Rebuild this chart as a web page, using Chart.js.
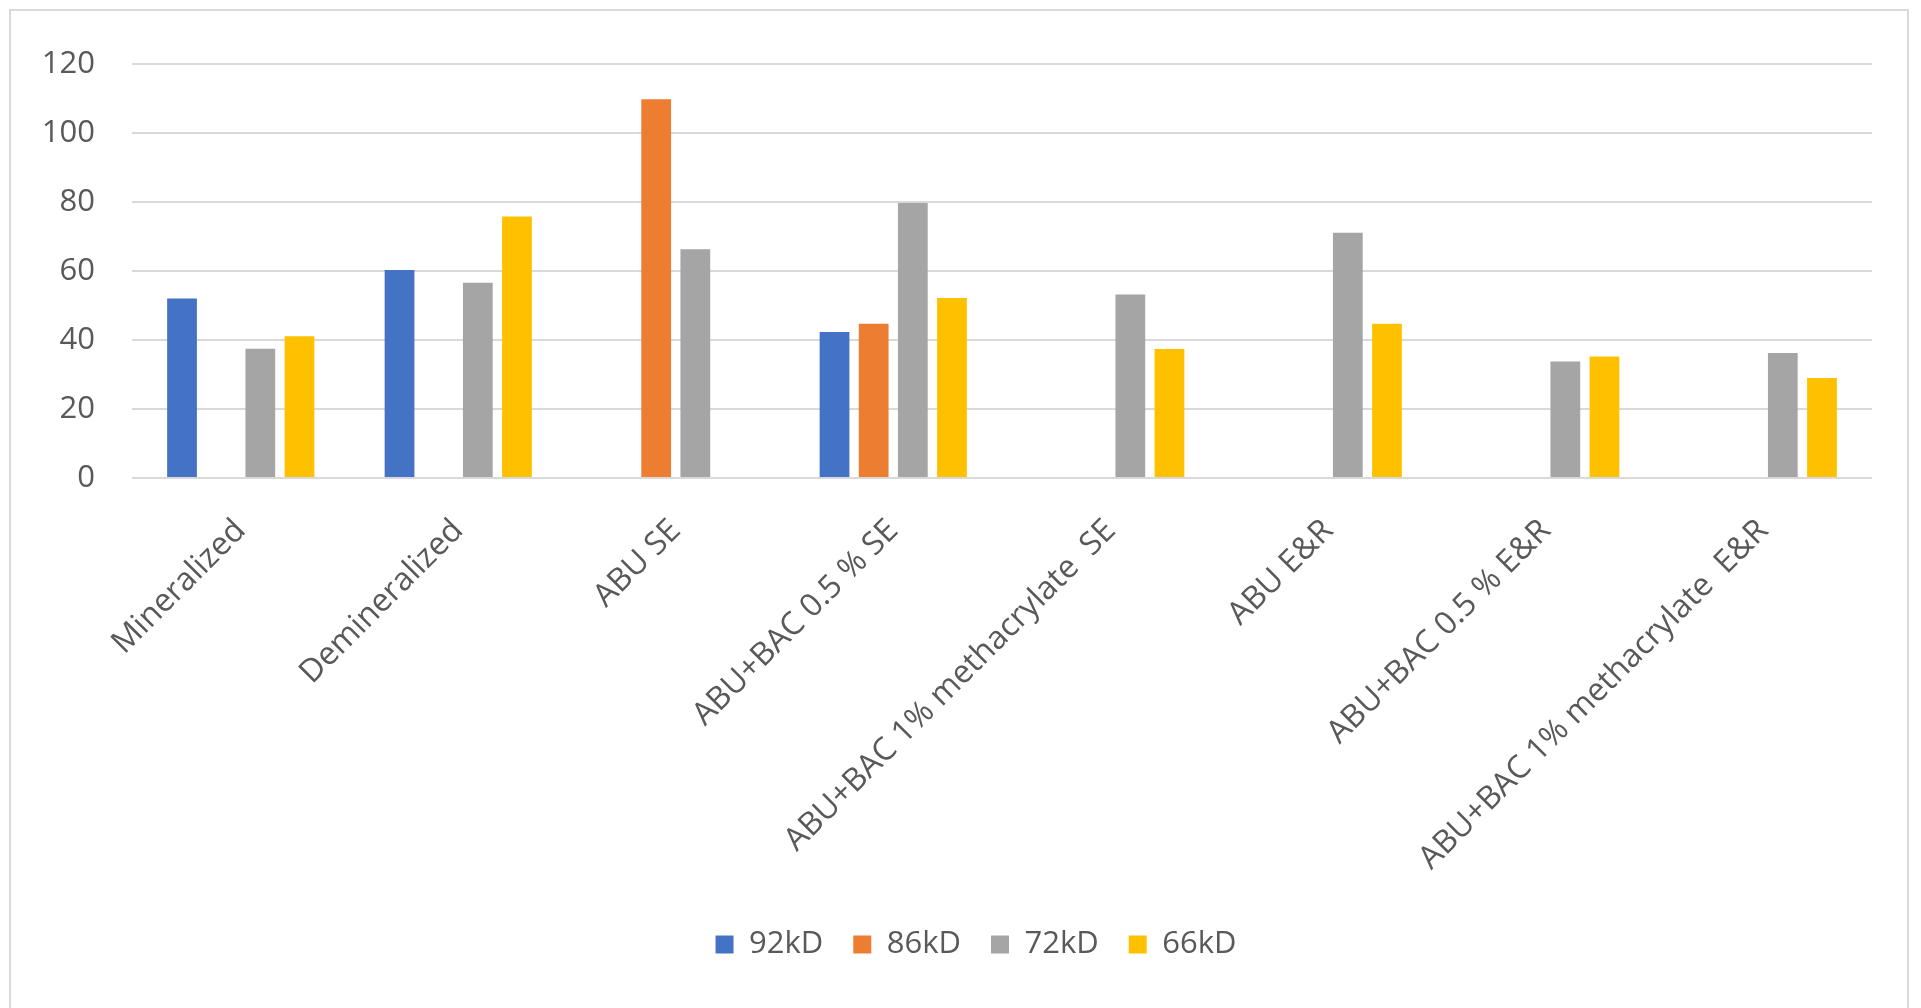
<!DOCTYPE html>
<html>
<head>
<meta charset="utf-8">
<script src="https://cdn.jsdelivr.net/npm/chart.js@4"></script>
<style>
  html, body { margin: 0; padding: 0; background: #fff; overflow: hidden; }
  #frame {
    position: absolute; left: 9px; top: 9px; width: 1900px; height: 1100px;
    border: 2px solid #d9d9d9; box-sizing: border-box;
  }
  #wrap { position: absolute; left: 0; top: 0; width: 1921px; height: 1008px; }
</style>
</head>
<body>
<div id="frame"></div>
<div id="wrap"><canvas id="chart"></canvas></div>
<script>
// Gelatinase band intensity by group
const categories = [
    'Mineralized',
    'Demineralized',
    'ABU SE',
    'ABU+BAC 0.5 % SE',
    'ABU+BAC 1% methacrylate  SE',
    'ABU E&R',
    'ABU+BAC 0.5 % E&R',
    'ABU+BAC 1% methacrylate  E&R'
];
const seriesNames = ['92kD', '86kD', '72kD', '66kD'];
const kd92 = [52, 60.3, null, 42.3, null, null, null, null];
const kd86 = [null, null, 109.8, 44.7, null, null, null, null];
const kd72 = [37.5, 56.6, 66.3, 79.7, 53.2, 71.1, 33.8, 36.2];
const kd66 = [41.1, 75.8, null, 52.2, 37.4, 44.7, 35.2, 29.0];
const yTicks = [0, 20, 40, 60, 80, 100, 120];

const colors = ['#4472C4', '#ED7D31', '#A5A5A5', '#FFC000'];
const textColor = '#595959';
const fontFamily = '"Open Sans", "Noto Sans", sans-serif';

// legend sits centred on the whole frame, not on the padded area
const legendShift = {
    id: 'legendShift',
    afterLayout(chart) {
        const lg = chart.legend;
        if (!lg) return;
        lg.left += 30;
        lg.right += 30;
    }
};

document.addEventListener('DOMContentLoaded', () => {
    const ctx = document.getElementById('chart').getContext('2d');
    const seriesData = [kd92, kd86, kd72, kd66];

    new Chart(ctx, {
        type: 'bar',
        data: {
            labels: categories,
            datasets: seriesNames.map((name, i) => ({
                label: name,
                data: seriesData[i],
                backgroundColor: colors[i],
                borderWidth: 0,
                categoryPercentage: 0.72,
                barPercentage: 0.76
            }))
        },
        options: {
            responsive: true,
            maintainAspectRatio: false,
            animation: false,
            devicePixelRatio: 1,
            layout: {
                padding: { top: 64, left: 20, right: 49, bottom: 38 }
            },
            scales: {
                x: {
                    grid: { display: false },
                    border: { display: false },
                    ticks: {
                        color: textColor,
                        font: { family: fontFamily, size: 32 },
                        minRotation: 45,
                        maxRotation: 45,
                        autoSkip: false,
                        padding: 26
                    },
                    afterFit: (scale) => { scale.height = 421; }
                },
                y: {
                    min: 0,
                    max: 120,
                    afterBuildTicks: (scale) => {
                        scale.ticks = yTicks.map(v => ({ value: v }));
                    },
                    grid: { color: '#d9d9d9', lineWidth: 2, drawTicks: false },
                    border: { display: false },
                    ticks: {
                        color: textColor,
                        font: { family: fontFamily, size: 31 },
                        padding: 37
                    },
                    afterFit: (scale) => { scale.width = 112; }
                }
            },
            plugins: {
                legend: {
                    position: 'bottom',
                    labels: {
                        color: textColor,
                        font: { family: fontFamily, size: 31 },
                        boxWidth: 18,
                        boxHeight: 18,
                        padding: 30
                    }
                },
                tooltip: { enabled: false }
            }
        },
        plugins: [legendShift]
    });
});
</script>
</body>
</html>
